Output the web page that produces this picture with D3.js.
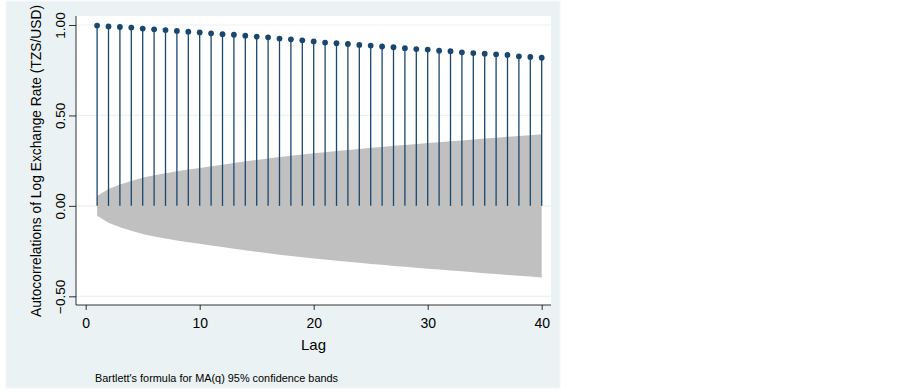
<!DOCTYPE html>
<html>
<head>
<meta charset="utf-8">
<script src="https://cdn.jsdelivr.net/npm/d3@7"></script>
<style>
  body { margin: 0; background: #ffffff; }
  text { font-family: "Liberation Sans", Arial, sans-serif; }
</style>
</head>
<body>
<div id="container"></div>
<script>
let w = 903;
let h = 389;

// lags 1..40
let lags = d3.range(1, 41);

// autocorrelations
let acf = [0.997, 0.992, 0.989, 0.986, 0.980, 0.976, 0.972, 0.967, 0.963, 0.959,
           0.954, 0.949, 0.946, 0.941, 0.936, 0.932, 0.925, 0.921, 0.915, 0.909,
           0.903, 0.899, 0.895, 0.890, 0.886, 0.881, 0.877, 0.872, 0.867, 0.864,
           0.858, 0.855, 0.849, 0.845, 0.841, 0.838, 0.834, 0.827, 0.823, 0.819];

// half width of the 95% Bartlett band
let band = [0.054, 0.093, 0.118, 0.138, 0.155, 0.169, 0.181, 0.192, 0.201, 0.210,
            0.219, 0.228, 0.237, 0.246, 0.254, 0.262, 0.270, 0.277, 0.284, 0.291,
            0.297, 0.303, 0.309, 0.315, 0.321, 0.326, 0.332, 0.337, 0.342, 0.347,
            0.352, 0.357, 0.362, 0.367, 0.372, 0.377, 0.382, 0.386, 0.391, 0.396];

let xTicks = [0, 10, 20, 30, 40];
let yTicks = [-0.5, 0, 0.5, 1];

let yTitle = "Autocorrelations of Log Exchange Rate (TZS/USD)";
let xTitle = "Lag";
let note = "Bartlett's formula for MA(q) 95% confidence bands";

let data = lags.map(function(d, i){
  return {lag: d, r: acf[i], b: band[i]};
});

let plotLeft = 76;
let plotRight = 551;
let plotTop = 16;
let plotBottom = 305;

let viz = d3.select("#container")
  .append("svg")
    .attr("width", w)
    .attr("height", h)
;

// graph region
viz.append("rect")
  .attr("x", 6)
  .attr("y", 1)
  .attr("width", 554)
  .attr("height", 387)
  .attr("fill", "#eaf2f3")
  .attr("stroke", "#f4f8f9")
  .attr("stroke-width", 1)
;

// plot region
viz.append("rect")
  .attr("x", plotLeft)
  .attr("y", plotTop)
  .attr("width", plotRight - plotLeft)
  .attr("height", plotBottom - plotTop)
  .attr("fill", "#ffffff")
;

let xScale = d3.scaleLinear().domain([0, 40]).range([85.7, 541.7]);
let yScale = d3.scaleLinear().domain([-0.5, 1]).range([296.3, 25]);

// gridlines
viz.append("g").attr("class", "grid")
  .selectAll("line")
  .data(yTicks)
  .enter()
  .append("line")
    .attr("x1", plotLeft)
    .attr("x2", plotRight)
    .attr("y1", function(d){ return yScale(d); })
    .attr("y2", function(d){ return yScale(d); })
    .attr("stroke", "#eaf2f3")
    .attr("stroke-width", 1.2)
;

// confidence band
let area = d3.area()
  .x(function(d){ return xScale(d.lag); })
  .y0(function(d){ return yScale(-d.b); })
  .y1(function(d){ return yScale(d.b); });

viz.append("path")
  .datum(data)
  .attr("d", area)
  .attr("fill", "#c0c0c0")
;

// stems and dots
let spikes = viz.append("g").attr("class", "spikes");

spikes.selectAll("line")
  .data(data)
  .enter()
  .append("line")
    .attr("x1", function(d){ return xScale(d.lag); })
    .attr("x2", function(d){ return xScale(d.lag); })
    .attr("y1", yScale(0))
    .attr("y2", function(d){ return yScale(d.r); })
    .attr("stroke", "#1a476f")
    .attr("stroke-width", 1.3)
;

spikes.selectAll("circle")
  .data(data)
  .enter()
  .append("circle")
    .attr("cx", function(d){ return xScale(d.lag); })
    .attr("cy", function(d){ return yScale(d.r); })
    .attr("r", 2.9)
    .attr("fill", "#1a476f")
;

// axes
let yAxis = d3.axisLeft(yScale)
  .tickValues(yTicks)
  .tickFormat(d3.format(".2f"))
  .tickSize(7)
  .tickSizeOuter(0);

let yAxisGroup = viz.append("g").attr("class", "yaxis")
  .attr("transform", "translate(" + plotLeft + ",0)")
  .call(yAxis);
yAxisGroup.select(".domain").remove();
yAxisGroup.selectAll(".tick line").attr("stroke", "#000000").attr("stroke-width", 0.8);
yAxisGroup.selectAll(".tick text")
  .attr("transform", "rotate(-90)")
  .attr("x", 0)
  .attr("y", -11)
  .attr("dy", 0)
  .attr("text-anchor", "middle")
  .attr("font-family", '"Liberation Sans", Arial, sans-serif')
  .attr("font-size", "13.5px")
  .attr("fill", "#000000");

let xAxis = d3.axisBottom(xScale)
  .tickValues(xTicks)
  .tickSize(5)
  .tickSizeOuter(0);

let xAxisGroup = viz.append("g").attr("class", "xaxis")
  .attr("transform", "translate(0," + plotBottom + ")")
  .call(xAxis);
xAxisGroup.select(".domain").remove();
xAxisGroup.selectAll(".tick line").attr("stroke", "#000000").attr("stroke-width", 0.8);
xAxisGroup.selectAll(".tick text")
  .attr("y", 23)
  .attr("dy", 0)
  .attr("font-family", '"Liberation Sans", Arial, sans-serif')
  .attr("font-size", "14px")
  .attr("fill", "#000000");

// axis lines
viz.append("line")
  .attr("x1", plotLeft).attr("x2", plotLeft)
  .attr("y1", plotTop).attr("y2", plotBottom)
  .attr("stroke", "#000000").attr("stroke-width", 0.8);

viz.append("line")
  .attr("x1", plotLeft).attr("x2", plotRight)
  .attr("y1", plotBottom).attr("y2", plotBottom)
  .attr("stroke", "#000000").attr("stroke-width", 0.8);

// titles
viz.append("text")
  .text(yTitle)
  .attr("transform", "translate(41,161) rotate(-90)")
  .attr("text-anchor", "middle")
  .attr("font-size", "13.8px")
  .attr("fill", "#000000");

viz.append("text")
  .text(xTitle)
  .attr("x", (plotLeft + plotRight) / 2)
  .attr("y", 350)
  .attr("text-anchor", "middle")
  .attr("font-size", "15px")
  .attr("fill", "#000000");

viz.append("text")
  .text(note)
  .attr("x", 95)
  .attr("y", 382)
  .attr("font-size", "10.9px")
  .attr("fill", "#000000");
</script>
</body>
</html>
